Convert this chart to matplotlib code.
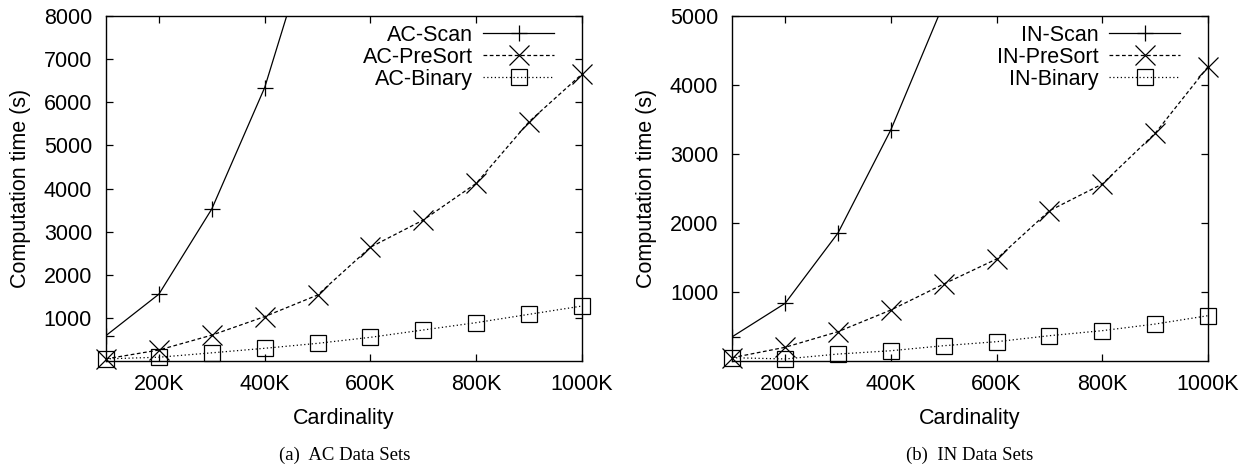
import matplotlib
matplotlib.use("Agg")
import matplotlib.pyplot as plt

# Data (cardinality in K)
card = [100, 200, 300, 400, 500, 600, 700, 800, 900, 1000]
scan_card = [100, 200, 300, 400, 500]

ac_scan = [590, 1550, 3525, 6340, 10330]
ac_presort = [50, 255, 600, 1030, 1530, 2640, 3270, 4120, 5550, 6655]
ac_binary = [50, 88, 190, 295, 410, 550, 720, 890, 1083, 1275]

in_scan = [352, 836, 1855, 3350, 5180]
in_presort = [48, 199, 425, 739, 1116, 1478, 2178, 2565, 3300, 4265]
in_binary = [48, 30, 101, 149, 222, 280, 367, 440, 536, 657]

xticks = [200, 400, 600, 800, 1000]
xticklabels = ["200K", "400K", "600K", "800K", "1000K"]
ac_yticks = [1000, 2000, 3000, 4000, 5000, 6000, 7000, 8000]
in_yticks = [1000, 2000, 3000, 4000, 5000]

plt.rcParams['font.family'] = ['Liberation Sans', 'DejaVu Sans']
FS = 15.5

fig = plt.figure(figsize=(12.5, 4.71), dpi=100)
ax1 = fig.add_axes([0.0848, 0.2335, 0.3808, 0.7325])
ax2 = fig.add_axes([0.5858, 0.2335, 0.3806, 0.7325])

def draw(ax, prefix, scan, presort, binary, ymax, yticks):
    lw = 0.9
    ax.plot(scan_card, scan, color='black', lw=lw, ls='-', marker='+', ms=11,
            mew=lw, label=f"{prefix}-Scan", clip_on=True)
    ax.plot(card, presort, color='black', lw=lw, ls=(0, (3, 2)), marker='x', ms=14,
            mew=lw, label=f"{prefix}-PreSort", clip_on=False)
    ax.plot(card, binary, color='black', lw=lw, ls=(0, (1, 2)), marker='s', ms=12,
            mew=lw, mfc='none', label=f"{prefix}-Binary", clip_on=False)
    ax.set_xlim(100, 1000)
    ax.set_ylim(0, ymax)
    ax.set_xticks(xticks)
    ax.set_xticklabels(xticklabels)
    ax.set_yticks(yticks)
    ax.tick_params(direction='in', length=5, width=0.9, top=True, right=True,
                   labelsize=FS)
    ax.tick_params(axis='x', pad=9)
    ax.tick_params(axis='y', pad=10)
    for s in ax.spines.values():
        s.set_linewidth(1.0)
    ax.set_xlabel("Cardinality", fontsize=FS, labelpad=10)
    ax.set_ylabel("Computation time (s)", fontsize=FS, labelpad=9)
    leg = ax.legend(loc='upper right', frameon=False, markerfirst=False,
                    fontsize=FS, handlelength=3.3, labelspacing=0.05,
                    borderaxespad=0.0, handletextpad=0.5,
                    bbox_to_anchor=(0.96, 1.0))
    for t in leg.get_texts():
        t.set_ha('right')

draw(ax1, "AC", ac_scan, ac_presort, ac_binary, 8000, ac_yticks)
draw(ax2, "IN", in_scan, in_presort, in_binary, 5000, in_yticks)

fig.text(0.276, 0.034, "(a)  AC Data Sets", ha='center', va='center',
         fontsize=13.5, family=['Liberation Serif', 'DejaVu Serif'])
fig.text(0.776, 0.034, "(b)  IN Data Sets", ha='center', va='center',
         fontsize=13.5, family=['Liberation Serif', 'DejaVu Serif'])

fig.savefig("out.png", dpi=100)
